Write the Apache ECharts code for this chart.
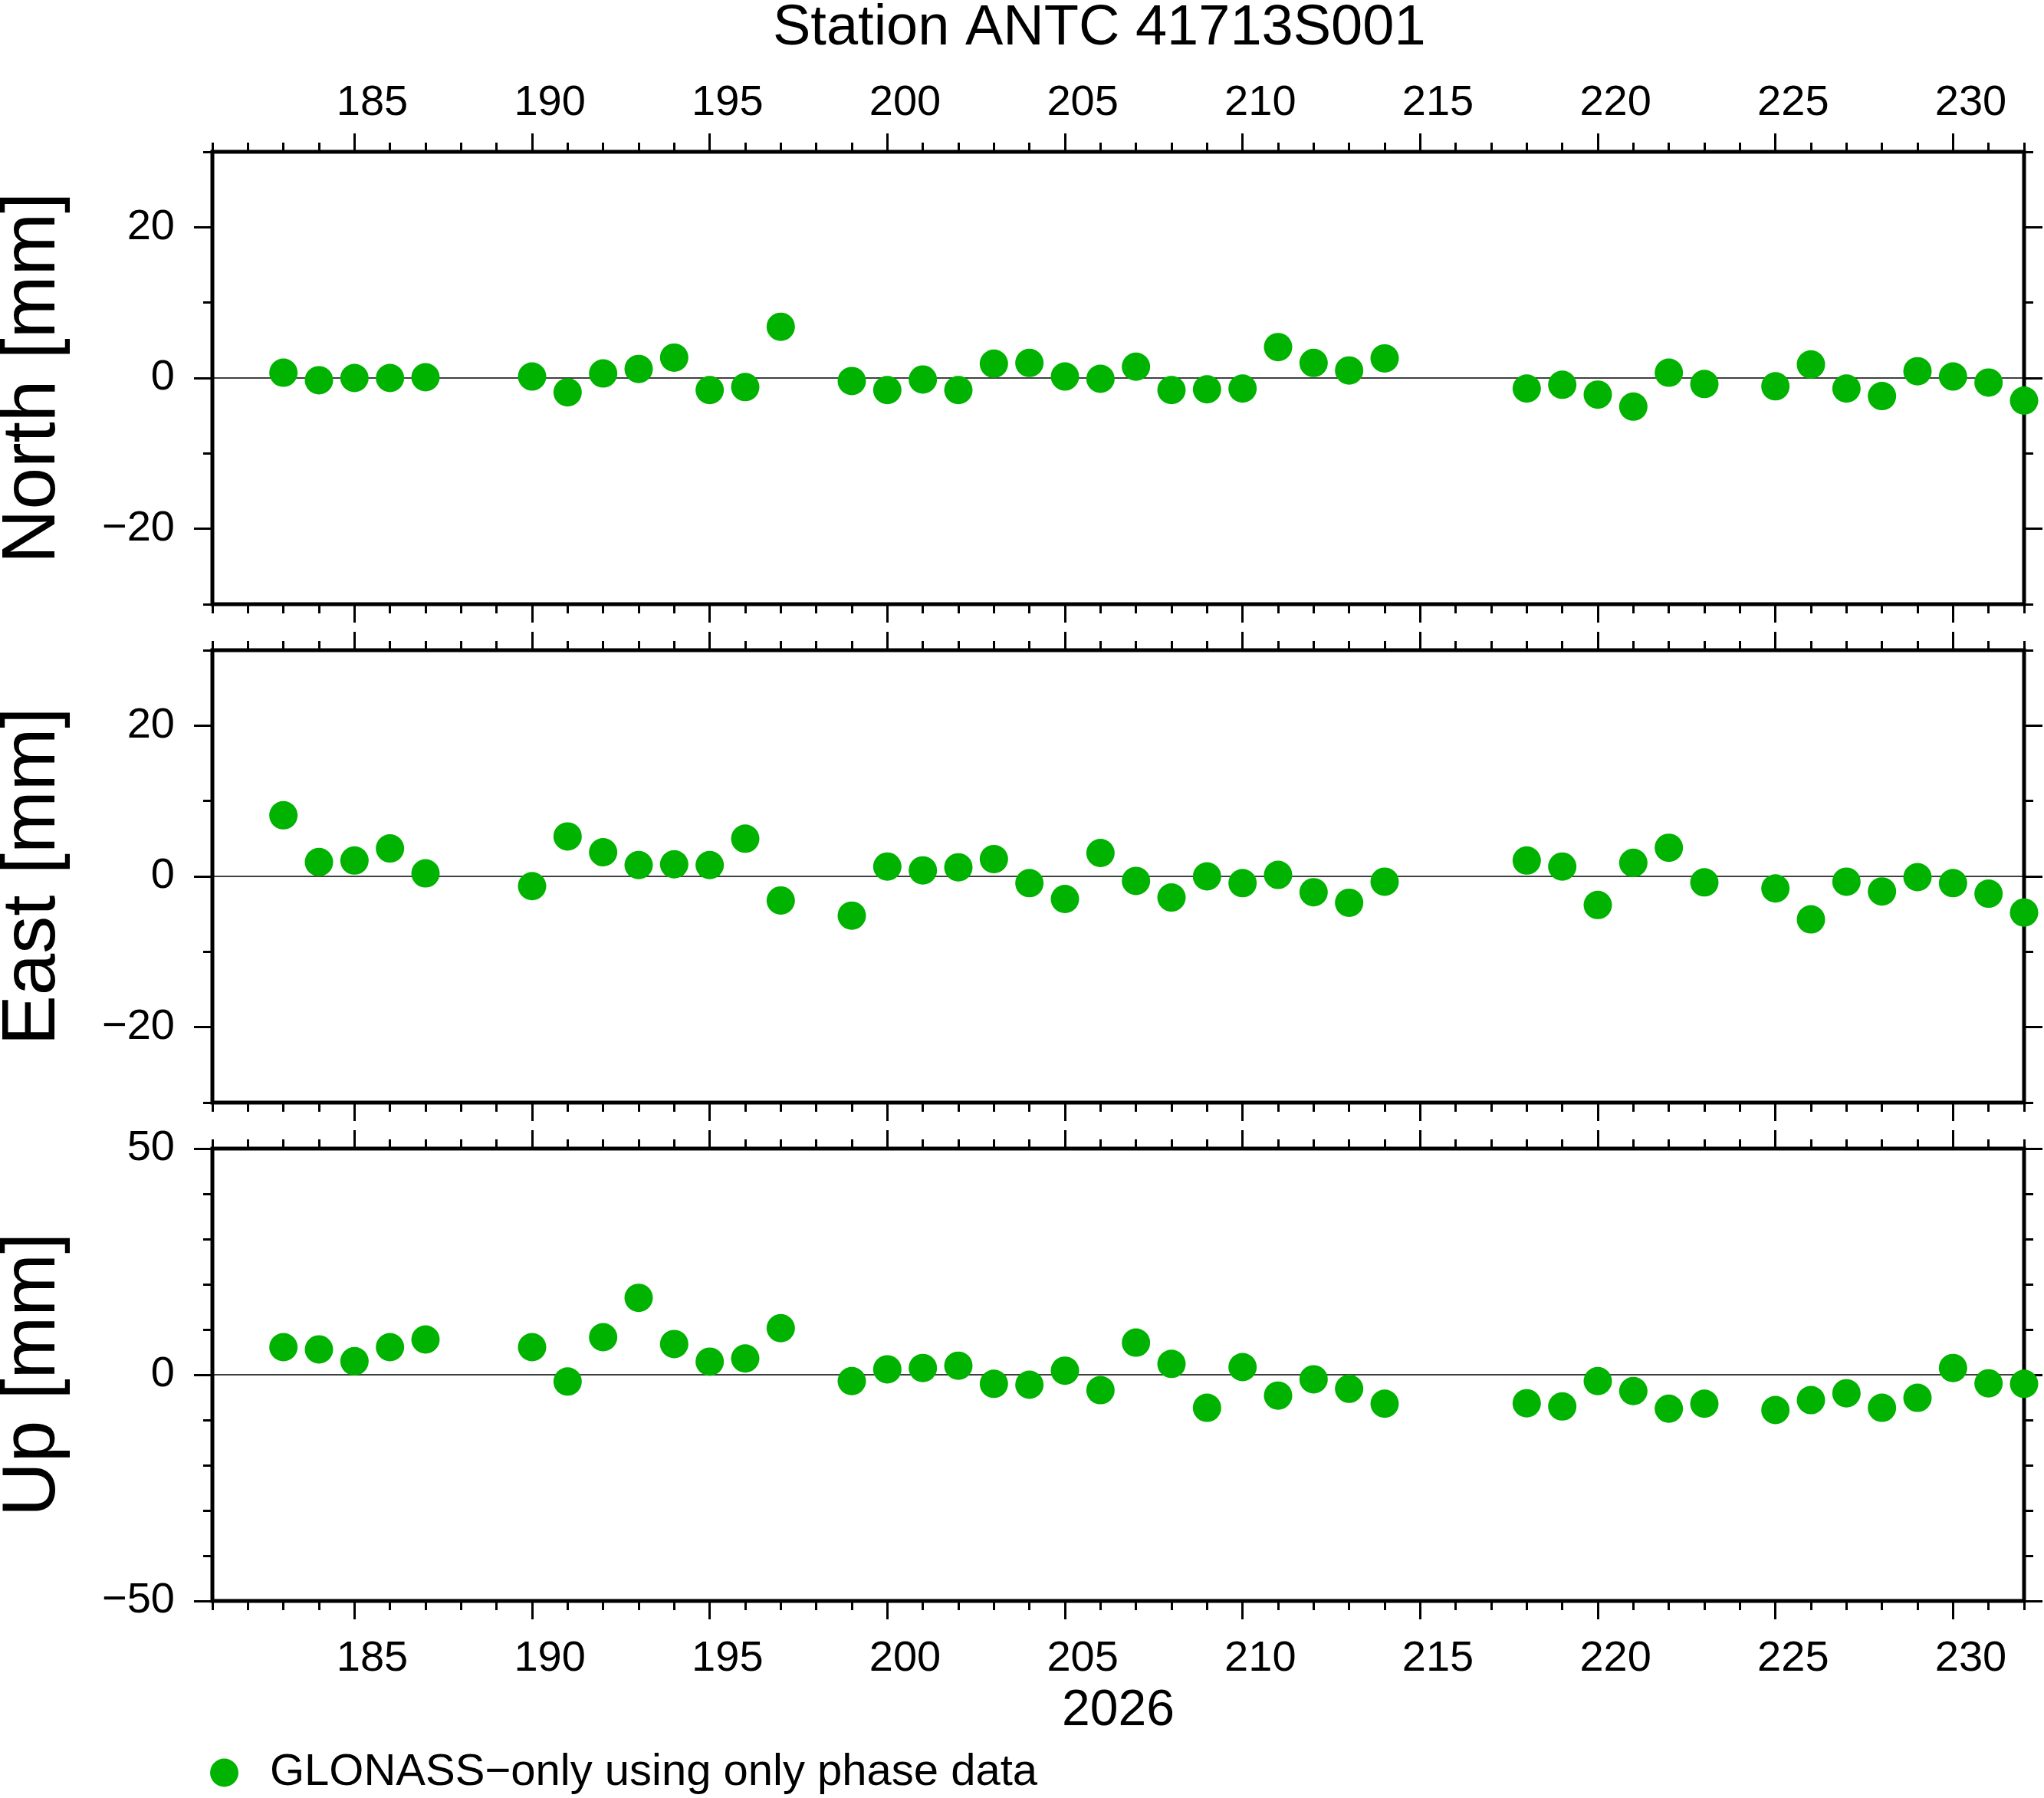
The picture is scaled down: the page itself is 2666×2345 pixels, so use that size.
<!DOCTYPE html>
<html>
<head>
<meta charset="utf-8">
<script src="https://cdn.jsdelivr.net/npm/echarts@6/dist/echarts.min.js"></script>
<style>
html, body { margin: 0; padding: 0; background: #fff; }
#chart { width: 2666px; height: 2345px; }
</style>
</head>
<body>
<div id="chart"></div>
<script>
// day of year 2026
var days = [183, 184, 185, 186, 187,
    190, 191, 192, 193, 194, 195, 196, 197,
    199, 200, 201, 202, 203, 204, 205, 206, 207, 208, 209, 210, 211, 212, 213, 214,
    218, 219, 220, 221, 222, 223,
    225, 226, 227, 228, 229, 230, 231, 232];

// residuals [mm]
var northValues = [0.7, -0.3, 0, 0, 0.1,
    0.2, -1.9, 0.6, 1.2, 2.7, -1.6, -1.2, 6.8,
    -0.4, -1.6, -0.2, -1.6, 1.9, 2.0, 0.2, -0.1, 1.5, -1.6, -1.5, -1.4, 4.1, 2.0, 1.0, 2.6,
    -1.4, -0.9, -2.2, -3.8, 0.7, -0.8,
    -1.1, 1.8, -1.4, -2.4, 0.9, 0.2, -0.6, -3.0];
var eastValues = [8.1, 1.9, 2.1, 3.7, 0.4,
    -1.3, 5.3, 3.2, 1.5, 1.6, 1.5, 5.0, -3.2,
    -5.2, 1.3, 0.8, 1.2, 2.3, -0.9, -3.0, 3.1, -0.6, -2.8, 0, -0.9, 0.2, -2.1, -3.5, -0.7,
    2.1, 1.3, -3.8, 1.8, 3.8, -0.8,
    -1.6, -5.7, -0.7, -2.0, -0.1, -0.9, -2.3, -4.8];
var upValues = [6.1, 5.6, 3.0, 6.1, 7.8,
    6.1, -1.5, 8.3, 17.0, 6.8, 2.9, 3.6, 10.3,
    -1.4, 1.2, 1.5, 2.0, -2.0, -2.2, 0.9, -3.4, 7.1, 2.4, -7.3, 1.7, -4.6, -1.0, -3.1, -6.4,
    -6.3, -7.0, -1.4, -3.6, -7.5, -6.4,
    -7.8, -5.6, -4.1, -7.3, -5.1, 1.5, -1.9, -2.0];

var dayTicks = [185, 190, 195, 200, 205, 210, 215, 220, 225, 230];
var panelNames = ['North [mm]', 'East [mm]', 'Up [mm]'];
var panelMax = [30, 30, 50];
var panelLabels = [[-20, 0, 20], [-20, 0, 20], [-50, 0, 50]];
var seriesName = 'GLONASS\u2212only using only phase data';

var FONT = 'Liberation Sans';
var GREEN = '#00b300';
var gridTops = [198, 848, 1498];
var GRID_H = 590;

var allDays = [];
for (var d = 181; d <= 232; d++) allDays.push(d);

// day labels sit in the middle of the day they name
var dayLabelPos = dayTicks.map(function (t) { return t + 0.5; });

function withMinus(v) {
    return String(v).replace('-', '\u2212');
}

var tickStyle = { color: '#000', width: 3 };
var panelValues = [northValues, eastValues, upValues];
var grids = [], xAxes = [], yAxes = [], series = [];

panelValues.forEach(function (values, i) {
    grids.push({
        left: 277, right: 26, top: gridTops[i], height: GRID_H,
        outerBoundsMode: 'none', containLabel: false,
        show: true, borderColor: '#000', borderWidth: 5,
        backgroundColor: 'transparent'
    });

    ['bottom', 'top'].forEach(function (pos) {
        var showLabel = (pos === 'bottom' && i === 2) || (pos === 'top' && i === 0);
        var isYear = pos === 'bottom' && i === 2;
        xAxes.push({
            gridIndex: i, type: 'value', position: pos, min: 181, max: 232,
            axisLine: { show: false, onZero: false },
            splitLine: { show: false },
            axisTick: { customValues: dayTicks, length: 24, lineStyle: tickStyle },
            axisLabel: {
                show: showLabel, customValues: dayLabelPos, margin: pos === 'top' ? 35 : 48,
                fontSize: 56, fontFamily: FONT, color: '#000',
                formatter: function (v) { return String(Math.floor(v)); }
            },
            name: isYear ? '2026' : '',
            nameLocation: 'middle', nameGap: 111,
            nameTextStyle: { fontSize: 66, fontFamily: FONT, color: '#000' }
        });
        xAxes.push({
            gridIndex: i, type: 'value', position: pos, min: 181, max: 232,
            axisLine: { show: false, onZero: false },
            splitLine: { show: false },
            axisTick: { customValues: allDays, length: 12, lineStyle: tickStyle },
            axisLabel: { show: false }
        });
    });

    ['left', 'right'].forEach(function (pos) {
        var isLeft = pos === 'left';
        yAxes.push({
            gridIndex: i, type: 'value', position: pos,
            min: -panelMax[i], max: panelMax[i],
            axisLine: { show: false, onZero: false },
            splitLine: { show: false },
            axisTick: { customValues: panelLabels[i], length: 24, lineStyle: tickStyle },
            axisLabel: {
                show: isLeft, customValues: panelLabels[i], margin: 49,
                fontSize: 56, fontFamily: FONT, color: '#000',
                formatter: withMinus
            },
            name: isLeft ? panelNames[i] : '',
            nameLocation: 'middle', nameRotate: 90, nameGap: 184,
            nameTextStyle: { fontSize: 98, fontFamily: FONT, color: '#000' }
        });
        yAxes.push({
            gridIndex: i, type: 'value', position: pos,
            min: -panelMax[i], max: panelMax[i], interval: 10,
            axisLine: { show: false, onZero: false },
            splitLine: { show: false },
            axisTick: { length: 12, lineStyle: tickStyle },
            axisLabel: { show: false }
        });
    });

    series.push({
        name: seriesName,
        type: 'scatter',
        xAxisIndex: 4 * i,
        yAxisIndex: 4 * i,
        symbol: 'circle',
        symbolSize: 37,
        clip: false,
        itemStyle: { color: GREEN, opacity: 1 },
        data: days.map(function (day, k) { return [day, values[k]]; }),
        markLine: {
            silent: true,
            z: 1,
            symbol: 'none',
            label: { show: false },
            lineStyle: { color: '#000', width: 1.5, type: 'solid' },
            data: [{ yAxis: 0 }]
        }
    });
});

var chart = echarts.init(document.getElementById('chart'));
chart.setOption({
    backgroundColor: '#fff',
    animation: false,
    title: {
        text: 'Station ANTC 41713S001',
        left: 1008, top: 1, padding: 0,
        textStyle: { fontSize: 74, fontWeight: 'normal', fontFamily: FONT, color: '#000' }
    },
    legend: {
        data: [seriesName],
        left: 274, top: 2283, padding: 0,
        icon: 'circle', itemWidth: 37, itemHeight: 37,
        selectedMode: false,
        textStyle: { fontSize: 58, fontFamily: FONT, color: '#000', padding: [0, 0, 0, 36] }
    },
    grid: grids,
    xAxis: xAxes,
    yAxis: yAxes,
    series: series
});
</script>
</body>
</html>
